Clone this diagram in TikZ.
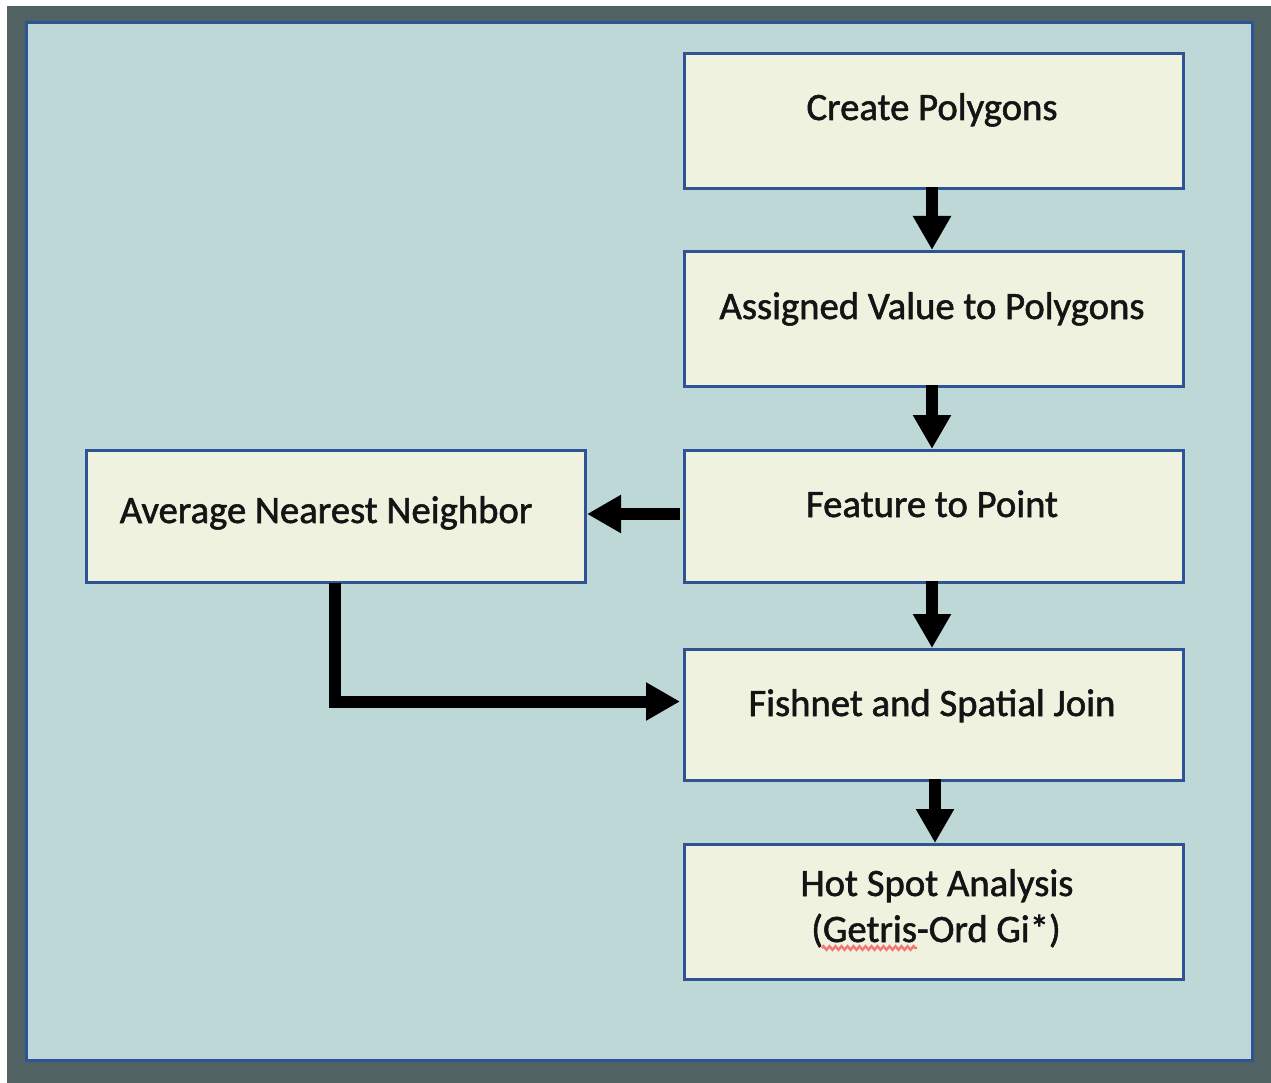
\documentclass[tikz,border=0pt]{standalone}
\usepackage{fontspec}
\setmainfont{Carlito}
\newfontfamily\boxfont{Carlito}[FakeBold=1.4]
\usetikzlibrary{arrows.meta,decorations.pathmorphing}

\definecolor{frameDark}{RGB}{80,98,98}
\definecolor{panelBlue}{RGB}{190,216,216}
\definecolor{edgeBlue}{RGB}{47,84,150}
\definecolor{boxCream}{RGB}{239,242,223}
\definecolor{squiggle}{RGB}{245,115,115}

\tikzset{
  stepbox/.style={draw=edgeBlue, line width=3pt, fill=boxCream},
  label/.style={font=\boxfont\fontsize{38.7}{46}\selectfont, text=black!92, anchor=base, inner sep=0pt, align=center},
  flow/.style={line width=12pt, -{Triangle[width=36pt,length=34pt]}},
}

\begin{document}
\begin{tikzpicture}[x=1pt,y=-1pt]
  \useasboundingbox (0,0) rectangle (1271,1083);
  \fill[white] (0,0) rectangle (1271,1083);
  % outer frame and inner panel
  \fill[frameDark] (7,6) rectangle (1271,1083);
  \draw[edgeBlue, line width=3pt, fill=panelBlue] (26.5,22.5) rectangle (1252.5,1060.5);

  % process boxes
  \draw[stepbox] (684.5,53.5)  rectangle (1183.5,188.5) coordinate (b1);
  \draw[stepbox] (684.5,251.5) rectangle (1183.5,386)   coordinate (b2);
  \draw[stepbox] (684.5,450)   rectangle (1183.5,582)   coordinate (b3);
  \draw[stepbox] (684.5,649)   rectangle (1183.5,780)   coordinate (b4);
  \draw[stepbox] (684.5,844.5) rectangle (1183.5,979)   coordinate (b5);
  \draw[stepbox] (86.5,450)    rectangle (585,582)      coordinate (bl);

  % box texts
  \node[label] (t1) at (932,120) {Create Polygons};
  \node[label] (t2) at (932,319) {Assigned Value to Polygons};
  \node[label] (t3) at (932,517) {Feature to Point};
  \node[label] (t4) at (932,716) {Fishnet and Spatial Join};
  \node[label] (t5a) at (937,896) {Hot Spot Analysis};
  \node[label] (t5b) at (936,942) {(Getris-Ord Gi*)};
  \node[label] (tl) at (326,523) {Average Nearest Neighbor};

  % spell-check underline under "Getris"
  \draw[squiggle, line width=2.4pt, decorate,
        decoration={zigzag, segment length=6pt, amplitude=1.8pt}]
        (822,948) -- (917,948);

  % connector end points on the box edges
  \coordinate (c1s) at (932,187);
  \coordinate (c1e) at (932,250);
  \coordinate (c2s) at (932,385);
  \coordinate (c2e) at (932,449);
  \coordinate (c3s) at (932,581);
  \coordinate (c3e) at (932,648);
  \coordinate (c4s) at (935,779);
  \coordinate (c4e) at (935,843);
  \coordinate (c5s) at (680,514);
  \coordinate (c5e) at (587,514);
  \coordinate (c6s) at (335,583);
  \coordinate (c6m) at (335,701.5);
  \coordinate (c6e) at (680,701.5);

  % connectors
  \draw[flow] (c1s) -- (c1e);
  \draw[flow] (c2s) -- (c2e);
  \draw[flow] (c3s) -- (c3e);
  \draw[flow] (c4s) -- (c4e);
  \draw[flow] (c5s) -- (c5e);
  \draw[flow] (c6s) -- (c6m) -- (c6e);
\end{tikzpicture}
\end{document}
